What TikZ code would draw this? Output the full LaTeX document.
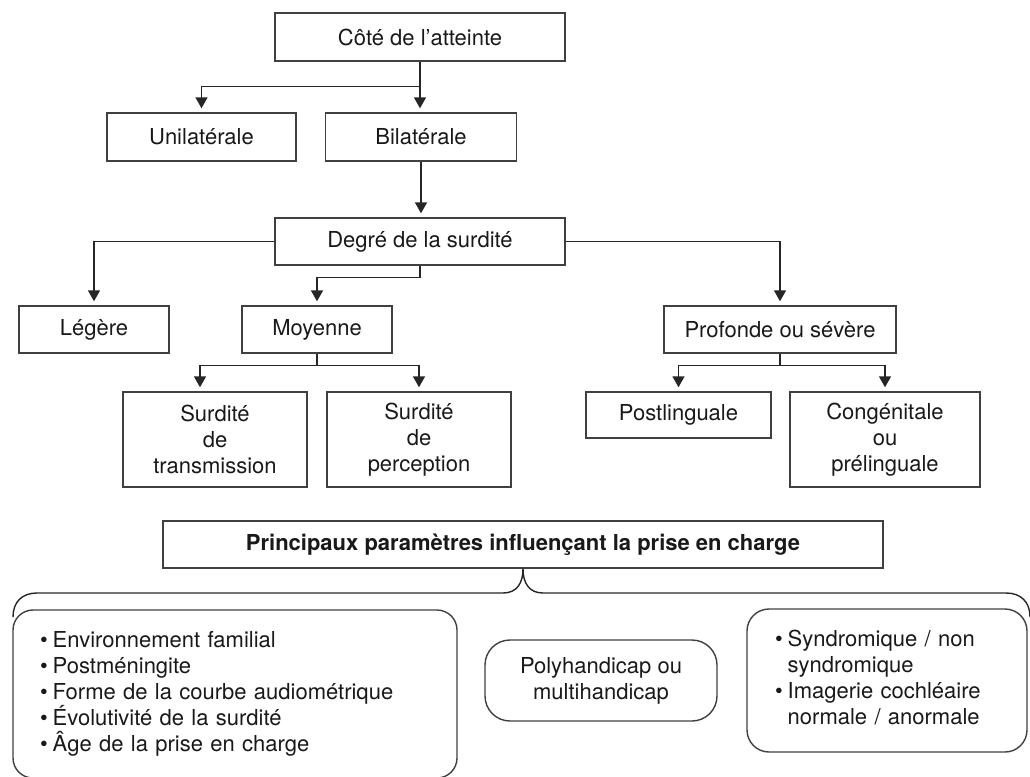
\documentclass[tikz,border=0pt]{standalone}
\usepackage{fontspec}
\setmainfont{TeX Gyre Heros}
\usetikzlibrary{arrows.meta}
\newcommand{\blt}{\textbullet\hspace{5pt}}
\begin{document}
\begin{tikzpicture}[x=1pt,y=-1pt,
  every node/.style={font=\fontsize{22}{26}\selectfont, text=black!90},
  box/.style={draw=black!75, line width=1.4pt, rectangle, inner sep=0pt, align=center},
  rbox/.style={box, rounded corners=20pt},
  conn/.style={draw=black!85, line width=1.4pt},
  arr/.style={conn, -{Triangle[width=12pt,length=11pt]}, shorten >=4pt},
]
\useasboundingbox (0,0) rectangle (1030,776);

% tree boxes
\node[box, minimum width=290pt, minimum height=48pt] (cote) at (420,37) {Côté de l'atteinte};
\node[box, minimum width=189pt, minimum height=48pt] (uni) at (201.5,137) {Unilatérale};
\node[box, minimum width=191pt, minimum height=48pt] (bil) at (421,137) {Bilatérale};
\node[box, minimum width=290pt, minimum height=47pt] (degre) at (420,241.5) {Degré de la surdité};
\node[box, minimum width=150pt, minimum height=47pt] (legere) at (94,329.5) {Légère};
\node[box, minimum width=150pt, minimum height=47pt] (moyenne) at (317,329.5) {Moyenne};
\node[box, minimum width=232pt, minimum height=47pt] (profonde) at (780,329.5) {Profonde ou sévère};
\node[box, minimum width=184pt, minimum height=95pt] (transm) at (215,439.5) {Surdité\\de\\transmission};
\node[box, minimum width=184pt, minimum height=95pt] (percep) at (419,439.5) {Surdité\\de\\perception};
\node[box, minimum width=185pt, minimum height=46pt] (postl) at (678.5,415) {Postlinguale};
\node[box, minimum width=190pt, minimum height=95pt] (congen) at (885,439.5) {Congénitale\\ou\\prélinguale};

% connectors
\draw[arr] (cote.south) -- (cote.south |- bil.north);
\draw[arr] (cote.south) -- ++(0,25) -| (uni.north);
\draw[arr] (bil.south) -- (bil.south |- degre.north);
\draw[arr] (degre.west) -| (legere.north);
\draw[arr] (degre.south) -- ++(0,12) -| (moyenne.north);
\draw[arr] (degre.east) -| (profonde.north);
\draw[arr] (moyenne.south) -- ++(0,12) -| ([xshift=-15pt]transm.north);
\draw[arr] (moyenne.south) -- ++(0,12) -| (percep.north);
\draw[arr] (profonde.south) -- ++(0,12) -| (postl.north);
\draw[arr] (profonde.south) -- ++(0,12) -| (congen.north);

% parameters
\node[box, minimum width=720pt, minimum height=47pt, font=\fontsize{22}{26}\selectfont\bfseries] (princ) at (523,544.5) {Principaux paramètres influençant la prise en charge};

\draw[conn] (13,617) .. controls (13,602) and (22,593) .. (37,593) -- (503,593)
  .. controls (517,593) and (523,583) .. (princ.south)
  .. controls (523,583) and (529,593) .. (543,593) -- (1006,593)
  .. controls (1021,593) and (1030,602) .. (1030,617);

\node[rbox, minimum width=444pt, minimum height=168pt, text width=390pt, align=left] (famil) at (235,694)
  {\blt Environnement familial\\
   \blt Postméningite\\
   \blt Forme de la courbe audiométrique\\
   \blt Évolutivité de la surdité\\
   \blt Âge de la prise en charge};

\node[rbox, rounded corners=25pt, minimum width=232pt, minimum height=81pt] (poly) at (601,680.5) {Polyhandicap ou\\multihandicap};

\node[rbox, rounded corners=22pt, minimum width=280pt, minimum height=143pt, text width=224pt, align=left] (synd) at (887,680.5)
  {\begin{tabular}{@{}l@{\hspace{5pt}}l@{}}
   \textbullet & Syndromique / non\\
               & syndromique\\
   \textbullet & Imagerie cochléaire\\
               & normale / anormale
   \end{tabular}};
\end{tikzpicture}
\end{document}
